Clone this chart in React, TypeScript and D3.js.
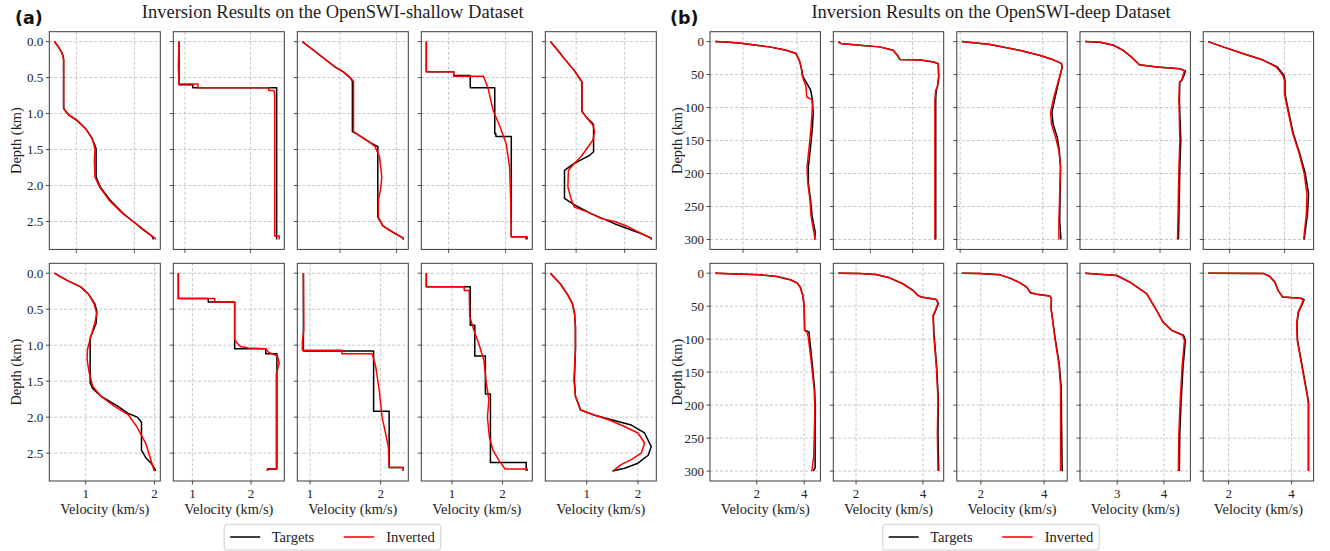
import React from 'react';
import * as d3 from 'd3';

type P = [number, number][]; // [depth, velocity]

// ---------- OpenSWI-shallow (a) : [depth km, velocity km/s] ----------
const aTop1Target: P = [[0,0.62],[0.05,0.67],[0.1,0.71],[0.15,0.745],[0.2,0.77],[0.25,0.78],[0.93,0.78],[0.96,0.81],[1.02,0.87],[1.09,1.0],[1.21,1.16],[1.33,1.26],[1.42,1.31],[1.49,1.34],[1.88,1.34],[2.02,1.41],[2.2,1.58],[2.39,1.81],[2.5,1.98],[2.62,2.16],[2.7,2.3],[2.75,2.33]];
const aTop1Inverted: P = [[0,0.62],[0.05,0.67],[0.1,0.71],[0.15,0.745],[0.2,0.77],[0.25,0.78],[0.93,0.78],[0.96,0.81],[1.02,0.87],[1.09,1.01],[1.21,1.16],[1.33,1.26],[1.42,1.3],[1.5,1.32],[1.65,1.31],[1.88,1.32],[2.02,1.4],[2.2,1.56],[2.39,1.8],[2.5,1.98],[2.62,2.17],[2.7,2.3],[2.73,2.36],[2.75,2.36]];

const aTop2Target: P = [[0,0.91],[0.6,0.91],[0.6,1.12],[0.64,1.12],[0.64,2.4],[2.75,2.4]];
const aTop2Inverted: P = [[0,0.91],[0.35,0.9],[0.59,0.91],[0.59,1.2],[0.64,1.2],[0.64,2.28],[0.68,2.28],[0.68,2.36],[0.75,2.37],[2.7,2.37],[2.7,2.44],[2.75,2.44]];

const aTop3Target: P = [[0,0.335],[0.19,0.647],[0.35,0.912],[0.42,1.06],[0.5,1.18],[0.55,1.22],[1.25,1.22],[1.28,1.29],[1.4,1.53],[1.46,1.67],[2.44,1.67],[2.56,1.76],[2.65,1.94],[2.73,2.12],[2.75,2.12]];
const aTop3Inverted: P = [[0,0.335],[0.19,0.647],[0.35,0.912],[0.42,1.06],[0.5,1.18],[0.55,1.24],[1.25,1.24],[1.28,1.29],[1.4,1.53],[1.46,1.62],[1.6,1.7],[1.88,1.74],[2.05,1.72],[2.2,1.68],[2.44,1.68],[2.56,1.76],[2.65,1.94],[2.73,2.12],[2.75,2.12]];

const aTop4Target: P = [[0,0.61],[0.42,0.61],[0.42,1.09],[0.47,1.09],[0.47,1.38],[0.64,1.38],[0.64,1.81],[1.28,1.81],[1.28,1.83],[1.32,1.83],[1.32,2.1],[2.71,2.1],[2.71,2.36],[2.75,2.36]];
const aTop4Inverted: P = [[0,0.61],[0.42,0.61],[0.42,1.09],[0.48,1.09],[0.48,1.61],[0.64,1.69],[0.95,1.78],[1.18,1.9],[1.42,2.01],[1.74,2.07],[2.2,2.09],[2.71,2.1],[2.71,2.38],[2.75,2.38]];

const aTop5Target: P = [[0,0.468],[0.12,0.62],[0.24,0.76],[0.4,0.96],[0.54,1.1],[0.56,1.12],[0.97,1.12],[1.05,1.21],[1.14,1.345],[1.16,1.36],[1.53,1.36],[1.58,1.28],[1.62,1.17],[1.69,0.965],[1.79,0.76],[2.18,0.76],[2.27,0.965],[2.39,1.31],[2.53,1.79],[2.67,2.35],[2.73,2.55],[2.75,2.55]];
const aTop5Inverted: P = [[0,0.468],[0.12,0.62],[0.24,0.76],[0.4,0.96],[0.54,1.1],[0.56,1.12],[0.97,1.12],[1.05,1.21],[1.16,1.345],[1.25,1.38],[1.37,1.345],[1.6,1.1],[1.69,0.965],[1.79,0.84],[2.02,0.83],[2.2,0.9],[2.3,0.965],[2.37,1.24],[2.46,1.52],[2.5,1.79],[2.57,2.07],[2.67,2.35],[2.73,2.55],[2.75,2.55]];

const aBot1Target: P = [[0,0.544],[0.1,0.728],[0.19,0.926],[0.285,1.035],[0.42,1.13],[0.52,1.16],[0.7,1.15],[0.9,1.064],[1.52,1.064],[1.6,1.1],[1.71,1.22],[1.85,1.47],[1.95,1.62],[2.0,1.75],[2.07,1.81],[2.46,1.81],[2.56,1.87],[2.64,1.95],[2.73,2.01],[2.75,2.01]];
const aBot1Inverted: P = [[0,0.544],[0.1,0.728],[0.19,0.926],[0.285,1.035],[0.42,1.12],[0.56,1.16],[0.7,1.13],[0.88,1.074],[1.06,1.025],[1.2,1.02],[1.38,1.05],[1.57,1.1],[1.71,1.22],[1.85,1.42],[1.97,1.62],[2.13,1.74],[2.36,1.87],[2.73,1.99],[2.75,2.0]];

const aBot2Target: P = [[0,0.76],[0.35,0.76],[0.35,1.27],[0.4,1.27],[0.4,1.72],[1.05,1.72],[1.05,2.25],[1.12,2.25],[1.12,2.44],[2.72,2.44],[2.72,2.28],[2.75,2.28]];
const aBot2Inverted: P = [[0,0.76],[0.35,0.76],[0.35,1.38],[0.4,1.38],[0.4,1.72],[0.92,1.72],[0.97,1.76],[1.02,1.82],[1.04,1.95],[1.05,2.25],[1.1,2.3],[1.15,2.45],[1.25,2.48],[1.4,2.43],[2.72,2.43],[2.72,2.28],[2.75,2.28]];

const aBot3Target: P = [[0,0.905],[1.08,0.905],[1.08,1.9],[1.92,1.9],[1.92,2.12],[2.7,2.12],[2.7,2.32],[2.75,2.32]];
const aBot3Inverted: P = [[0,0.905],[0.7,0.91],[0.8,0.91],[0.95,0.89],[1.07,0.89],[1.07,1.45],[1.12,1.45],[1.12,1.88],[1.3,1.93],[1.63,1.98],[2.0,2.02],[2.23,2.07],[2.42,2.11],[2.7,2.12],[2.7,2.32],[2.75,2.32]];

const aBot4Target: P = [[0,0.49],[0.19,0.49],[0.19,1.36],[0.725,1.36],[0.725,1.45],[1.15,1.45],[1.15,1.66],[1.68,1.66],[1.68,1.76],[2.63,1.76],[2.63,2.47],[2.75,2.47]];
const aBot4Inverted: P = [[0,0.49],[0.19,0.49],[0.19,1.24],[0.24,1.24],[0.24,1.34],[0.6,1.35],[0.79,1.43],[0.98,1.53],[1.21,1.63],[1.53,1.68],[1.76,1.73],[2.0,1.7],[2.28,1.74],[2.46,1.81],[2.6,1.93],[2.72,2.05],[2.72,2.49],[2.75,2.49]];

const aBot5Target: P = [[0,0.29],[0.15,0.487],[0.29,0.62],[0.42,0.72],[0.56,0.763],[0.74,0.78],[1.06,0.78],[1.48,0.76],[1.71,0.78],[1.9,0.88],[1.97,1.144],[2.04,1.5],[2.11,1.87],[2.22,2.13],[2.41,2.26],[2.53,2.2],[2.64,2.0],[2.71,1.74],[2.75,1.5]];
const aBot5Inverted: P = [[0,0.29],[0.15,0.487],[0.29,0.62],[0.42,0.72],[0.56,0.763],[0.74,0.78],[1.06,0.78],[1.48,0.75],[1.71,0.78],[1.9,0.88],[1.97,1.144],[2.04,1.44],[2.13,1.736],[2.22,2.0],[2.36,2.13],[2.5,2.065],[2.59,1.87],[2.66,1.67],[2.75,1.51]];

// ---------- OpenSWI-deep (b) : [depth km, velocity km/s] ----------
const bTop1Target: P = [[0,0.96],[1,1.5],[3,2.0],[8,2.98],[13,3.6],[18,3.96],[28,4.08],[38,4.15],[53,4.22],[73,4.5],[88,4.57],[109,4.6],[130,4.57],[160,4.5],[190,4.42],[215,4.42],[240,4.5],[265,4.56],[290,4.68],[300,4.65]];
const bTop1Inverted: P = [[0,0.96],[1,1.5],[3,2.0],[8,2.98],[13,3.6],[18,3.96],[28,4.08],[38,4.15],[53,4.2],[68,4.33],[84,4.36],[88,4.55],[99,4.57],[130,4.52],[160,4.45],[190,4.37],[215,4.4],[240,4.48],[265,4.52],[290,4.63],[300,4.67]];

const bTop2Target: P = [[0,2.24],[3,2.3],[5.6,2.74],[8,3.22],[13,3.54],[20.7,3.64],[27,3.7],[28,4.19],[31,4.5],[33.5,4.61],[53.6,4.62],[68.7,4.59],[73.8,4.56],[89,4.55],[300,4.55]];
const bTop2Inverted: P = [[0,2.24],[3,2.3],[5.6,2.74],[8,3.22],[13,3.54],[20.7,3.64],[27,3.7],[28,4.19],[31,4.5],[33.5,4.61],[53.6,4.62],[68.7,4.59],[73.8,4.55],[89,4.53],[300,4.53]];

const bTop3Target: P = [[0,2.04],[4.5,2.73],[13.6,3.46],[21,3.94],[28,4.27],[33,4.45],[39,4.47],[56.6,4.4],[84,4.3],[107,4.22],[125,4.25],[145,4.35],[165,4.4],[190,4.43],[231,4.42],[271,4.41],[300,4.44]];
const bTop3Inverted: P = [[0,2.04],[4.5,2.73],[13.6,3.46],[21,3.94],[28,4.27],[33,4.45],[39,4.47],[56.6,4.39],[84,4.27],[107,4.19],[125,4.21],[145,4.31],[165,4.39],[190,4.43],[231,4.41],[271,4.39],[300,4.39]];

const bTop4Target: P = [[0,2.37],[1,2.7],[5.6,2.99],[13.2,3.2],[23.5,3.38],[31,3.49],[35,3.55],[38.5,3.93],[41,4.43],[44.5,4.55],[51,4.52],[58.7,4.47],[61.2,4.43],[89,4.42],[149,4.45],[190,4.43],[300,4.4]];
const bTop4Inverted: P = [[0,2.37],[1,2.7],[5.6,2.99],[13.2,3.2],[23.5,3.38],[31,3.49],[35,3.55],[38.5,3.93],[41,4.43],[44.5,4.53],[51,4.5],[58.7,4.47],[61.2,4.42],[89,4.41],[149,4.43],[190,4.41],[300,4.38]];

const bTop5Target: P = [[0,2.61],[8,2.88],[18,3.24],[28,3.61],[38.5,3.87],[51,3.99],[58.7,4.01],[79,4.01],[104,4.07],[139,4.16],[170,4.28],[200,4.38],[231,4.44],[261,4.42],[300,4.36]];
const bTop5Inverted: P = [[0,2.61],[8,2.88],[18,3.24],[28,3.61],[38.5,3.85],[51,3.97],[58.7,4.0],[79,4.0],[104,4.06],[139,4.15],[170,4.27],[200,4.36],[231,4.41],[261,4.4],[300,4.35]];

const bBot1Target: P = [[0,0.24],[1,0.87],[2.5,2.14],[5,2.85],[10,3.41],[14.6,3.69],[21,3.83],[33.7,3.94],[51,4.0],[86.6,4.02],[89,4.2],[96.7,4.22],[142,4.35],[177,4.44],[207,4.47],[248,4.46],[278,4.46],[295,4.46],[300,4.38]];
const bBot1Inverted: P = [[0,0.24],[1,0.87],[2.5,2.14],[5,2.85],[10,3.41],[14.6,3.69],[21,3.83],[33.7,3.94],[51,4.0],[86.6,4.01],[89,4.11],[96.7,4.17],[142,4.32],[177,4.42],[207,4.45],[248,4.42],[278,4.4],[300,4.32]];

const bBot2Target: P = [[0,1.47],[0.5,2.1],[2,2.6],[7,3.0],[16,3.4],[26,3.7],[33.7,3.85],[36,3.95],[40,4.4],[46,4.46],[59,4.36],[64,4.31],[92,4.33],[142,4.41],[192,4.46],[243,4.45],[300,4.47]];
const bBot2Inverted: P = [[0,1.47],[0.5,2.1],[2,2.6],[7,3.0],[16,3.4],[26,3.7],[33.7,3.85],[36,3.95],[40,4.4],[46,4.45],[59,4.35],[64,4.3],[92,4.32],[142,4.4],[192,4.45],[243,4.43],[300,4.45]];

const bBot3Target: P = [[0,1.4],[0.5,1.96],[2.5,2.61],[7.5,2.92],[14.6,3.24],[21,3.45],[29.6,3.57],[32,3.76],[34.7,4.18],[38.7,4.23],[53.8,4.22],[99,4.35],[139,4.48],[174,4.54],[225,4.55],[300,4.57]];
const bBot3Inverted: P = [[0,1.4],[0.5,1.96],[2.5,2.61],[7.5,2.92],[14.6,3.24],[21,3.45],[29.6,3.57],[32,3.76],[34.7,4.18],[38.7,4.23],[53.8,4.22],[99,4.34],[139,4.47],[174,4.52],[225,4.52],[300,4.52]];

const bBot4Target: P = [[0,2.31],[3.5,2.99],[13.6,3.27],[31,3.63],[56,3.84],[74,3.98],[86.6,4.17],[94,4.42],[101.7,4.46],[142,4.41],[192,4.37],[243,4.34],[300,4.33]];
const bBot4Inverted: P = [[0,2.31],[3.5,2.99],[13.6,3.27],[31,3.63],[56,3.84],[74,3.98],[86.6,4.16],[94,4.4],[101.7,4.44],[142,4.39],[192,4.35],[243,4.32],[300,4.31]];

const bBot5Target: P = [[0,1.35],[0.3,3.1],[5,3.31],[13.6,3.47],[26,3.57],[33.7,3.68],[36,3.72],[38,4.3],[40,4.4],[46,4.35],[59,4.22],[76.5,4.17],[102,4.19],[142,4.34],[187,4.51],[197,4.54],[300,4.54]];
const bBot5Inverted: P = [[0,1.35],[0.3,3.1],[5,3.31],[13.6,3.47],[26,3.57],[33.7,3.68],[36,3.71],[38,4.26],[40,4.37],[46,4.33],[59,4.21],[76.5,4.16],[102,4.18],[142,4.33],[187,4.5],[197,4.53],[300,4.53]];

// ---------- ticks ----------
const shallowDepthTicks = [0, 0.5, 1.0, 1.5, 2.0, 2.5];
const deepDepthTicks = [0, 50, 100, 150, 200, 250, 300];
const shallowDepthMax = 2.75;
const deepDepthMax = 300;
const aVelTicks = [[1, 2], [1, 2], [1, 2], [1, 2], [1, 2]];
const bTopVelTicks = [[2, 4], [3, 4], [2, 4], [3, 4], [3, 4]];
const bBotVelTicks = [[2, 4], [2, 4], [2, 4], [3, 4], [2, 4]];

const titles = ['Inversion Results on the OpenSWI-shallow Dataset', 'Inversion Results on the OpenSWI-deep Dataset'];
const panelLetters = ['(a)', '(b)'];
const legendLabels = ['Targets', 'Inverted'];
const xLabel = 'Velocity (km/s)';
const yLabel = 'Depth (km)';

const aTop = [[aTop1Target, aTop1Inverted], [aTop2Target, aTop2Inverted], [aTop3Target, aTop3Inverted], [aTop4Target, aTop4Inverted], [aTop5Target, aTop5Inverted]];
const aBot = [[aBot1Target, aBot1Inverted], [aBot2Target, aBot2Inverted], [aBot3Target, aBot3Inverted], [aBot4Target, aBot4Inverted], [aBot5Target, aBot5Inverted]];
const bTop = [[bTop1Target, bTop1Inverted], [bTop2Target, bTop2Inverted], [bTop3Target, bTop3Inverted], [bTop4Target, bTop4Inverted], [bTop5Target, bTop5Inverted]];
const bBot = [[bBot1Target, bBot1Inverted], [bBot2Target, bBot2Inverted], [bBot3Target, bBot3Inverted], [bBot4Target, bBot4Inverted], [bBot5Target, bBot5Inverted]];

const SERIF = '"Liberation Serif", "Times New Roman", serif';
const TARGET_COLOR = '#000000';
const INV_COLOR = '#ff0000';
const GRID = '#b8b8b8';
const SPINE = '#3a3a3a';

type PanelProps = {
  x0: number; y0: number; w: number; h: number;
  target: P; inverted: P; velTicks: number[];
  depthTicks: number[]; depthMax: number; depthFmt: (v: number) => string;
  showY: boolean; showX: boolean;
};

function Panel(p: PanelProps) {
  const all = [...p.target, ...p.inverted].map(d => d[1]);
  const [vmin, vmax] = d3.extent(all) as [number, number];
  const pad = (vmax - vmin) * 0.05;
  const x = d3.scaleLinear().domain([vmin - pad, vmax + pad]).range([p.x0, p.x0 + p.w]);
  const y = d3.scaleLinear().domain([-0.05 * p.depthMax, 1.05 * p.depthMax]).range([p.y0, p.y0 + p.h]);
  const line = d3.line<[number, number]>().x(d => x(d[1])).y(d => y(d[0]));
  const bottom = p.y0 + p.h;
  return (
    <g>
      {p.velTicks.map(t => (
        <line key={'gx' + t} x1={x(t)} x2={x(t)} y1={p.y0} y2={bottom} stroke={GRID} strokeWidth={0.8} strokeDasharray="3,2" />
      ))}
      {p.depthTicks.map(t => (
        <line key={'gy' + t} x1={p.x0} x2={p.x0 + p.w} y1={y(t)} y2={y(t)} stroke={GRID} strokeWidth={0.8} strokeDasharray="3,2" />
      ))}
      <path d={line(p.target) || ''} fill="none" stroke={TARGET_COLOR} strokeWidth={1.5} strokeLinejoin="round" />
      <path d={line(p.inverted) || ''} fill="none" stroke={INV_COLOR} strokeWidth={1.5} strokeLinejoin="round" />
      <rect x={p.x0} y={p.y0} width={p.w} height={p.h} fill="none" stroke={SPINE} strokeWidth={1} />
      {p.depthTicks.map(t => (
        <g key={'ty' + t}>
          <line x1={p.x0 - 3.5} x2={p.x0} y1={y(t)} y2={y(t)} stroke={SPINE} strokeWidth={0.9} />
          {p.showY && (
            <text x={p.x0 - 6} y={y(t)} dy="0.35em" textAnchor="end" fontFamily={SERIF} fontSize={13} fill="#222">{p.depthFmt(t)}</text>
          )}
        </g>
      ))}
      {p.velTicks.map(t => (
        <g key={'tx' + t}>
          <line x1={x(t)} x2={x(t)} y1={bottom} y2={bottom + 3.5} stroke={SPINE} strokeWidth={0.9} />
          {p.showX && (
            <text x={x(t)} y={bottom + 16.5} textAnchor="middle" fontFamily={SERIF} fontSize={13} fill="#222">{String(t)}</text>
          )}
        </g>
      ))}
      {p.showX && (
        <text x={p.x0 + p.w / 2} y={bottom + 32.5} textAnchor="middle" fontFamily={SERIF} fontSize={14.4} fill="#222">{xLabel}</text>
      )}
      {p.showY && (
        <text transform={`translate(${p.x0 - 33},${p.y0 + p.h / 2}) rotate(-90)`} textAnchor="middle" dy="0.35em" fontFamily={SERIF} fontSize={14.4} fill="#222">{yLabel}</text>
      )}
    </g>
  );
}

function Legend({ x0 }: { x0: number }) {
  return (
    <g>
      <rect x={x0} y={524.3} width={216.5} height={25.7} rx={3} fill="#fff" stroke="#cfcfcf" strokeWidth={1} />
      <line x1={x0 + 6} x2={x0 + 36} y1={537} y2={537} stroke={TARGET_COLOR} strokeWidth={1.5} />
      <text x={x0 + 47.5} y={542} fontFamily={SERIF} fontSize={14.6} fill="#222">{legendLabels[0]}</text>
      <line x1={x0 + 119.5} x2={x0 + 150} y1={537} y2={537} stroke={INV_COLOR} strokeWidth={1.5} />
      <text x={x0 + 162} y={542} fontFamily={SERIF} fontSize={14.6} fill="#222">{legendLabels[1]}</text>
    </g>
  );
}

export default function App() {
  const rowY = [31.7, 263.3];
  const h = 217.7;
  const aX = [49.3, 173.3, 297.3, 421.3, 545.3];
  const bX = [710, 833.3, 956.8, 1080, 1203.2];
  const fmtA = (v: number) => v.toFixed(1);
  const fmtB = (v: number) => String(v);
  const panels: PanelProps[] = [];
  aTop.forEach((s, i) => panels.push({ x0: aX[i], y0: rowY[0], w: 111, h, target: s[0], inverted: s[1], velTicks: aVelTicks[i], depthTicks: shallowDepthTicks, depthMax: shallowDepthMax, depthFmt: fmtA, showY: i === 0, showX: false }));
  aBot.forEach((s, i) => panels.push({ x0: aX[i], y0: rowY[1], w: 111, h, target: s[0], inverted: s[1], velTicks: aVelTicks[i], depthTicks: shallowDepthTicks, depthMax: shallowDepthMax, depthFmt: fmtA, showY: i === 0, showX: true }));
  bTop.forEach((s, i) => panels.push({ x0: bX[i], y0: rowY[0], w: 110.4, h, target: s[0], inverted: s[1], velTicks: bTopVelTicks[i], depthTicks: deepDepthTicks, depthMax: deepDepthMax, depthFmt: fmtB, showY: i === 0, showX: false }));
  bBot.forEach((s, i) => panels.push({ x0: bX[i], y0: rowY[1], w: 110.4, h, target: s[0], inverted: s[1], velTicks: bBotVelTicks[i], depthTicks: deepDepthTicks, depthMax: deepDepthMax, depthFmt: fmtB, showY: i === 0, showX: true }));
  return (
    <svg width={1330} height={551} style={{ position: 'absolute', left: 0, top: 0, background: '#fff' }}>
      <rect x={0} y={0} width={1330} height={551} fill="#fff" />
      <text x={15} y={24} fontFamily='"DejaVu Sans", sans-serif' fontWeight="bold" fontSize={17.5} fill="#111">{panelLetters[0]}</text>
      <text x={670} y={24} fontFamily='"DejaVu Sans", sans-serif' fontWeight="bold" fontSize={17.5} fill="#111">{panelLetters[1]}</text>
      <text x={332.7} y={18} textAnchor="middle" fontFamily={SERIF} fontSize={18.5} fill="#222">{titles[0]}</text>
      <text x={991} y={18} textAnchor="middle" fontFamily={SERIF} fontSize={18.5} fill="#222">{titles[1]}</text>
      {panels.map((p, i) => <Panel key={i} {...p} />)}
      <Legend x0={224.2} />
      <Legend x0={882.7} />
    </svg>
  );
}
